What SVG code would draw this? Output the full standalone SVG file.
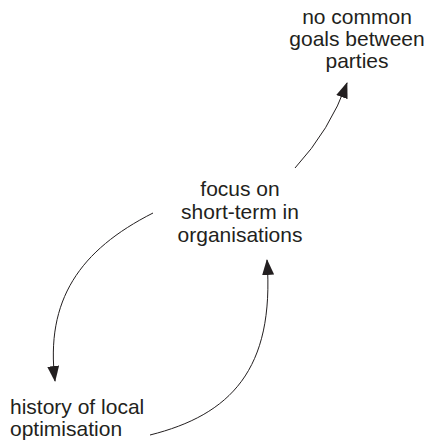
<svg xmlns="http://www.w3.org/2000/svg" width="427" height="440" viewBox="0 0 427 440">
<style>
text{font-family:"Liberation Sans",Arial,sans-serif;font-size:21px;fill:#231f20}
.c{text-anchor:middle}
.e{fill:none;stroke:#231f20;stroke-width:1}
</style>
<defs>
<marker id="ah" markerWidth="16" markerHeight="12" refX="15" refY="6" orient="auto" markerUnits="userSpaceOnUse">
<path d="M0,0 L16,6 L0,12 z" fill="#231f20"/>
</marker>
</defs>
<rect width="427" height="440" fill="#fff"/>
<g id="connectors">
<path class="e" d="M295,168 Q330,130 347,83" marker-end="url(#ah)"/>
<path class="e" d="M153,213 C80,250 45,300 55,381" marker-end="url(#ah)"/>
<path class="e" d="M150,435 C230,415 275,370 267,260" marker-end="url(#ah)"/>
</g>
<g id="n-goals">
<text class="c" x="357" y="24">no common</text>
<text class="c" x="357" y="46">goals between</text>
<text class="c" x="357" y="68">parties</text>
</g>
<g id="n-focus">
<text class="c" x="240" y="196">focus on</text>
<text class="c" x="240" y="219">short-term in</text>
<text class="c" x="240" y="242">organisations</text>
</g>
<g id="n-history">
<text x="10" y="414">history of local</text>
<text x="10" y="436">optimisation</text>
</g>
</svg>
